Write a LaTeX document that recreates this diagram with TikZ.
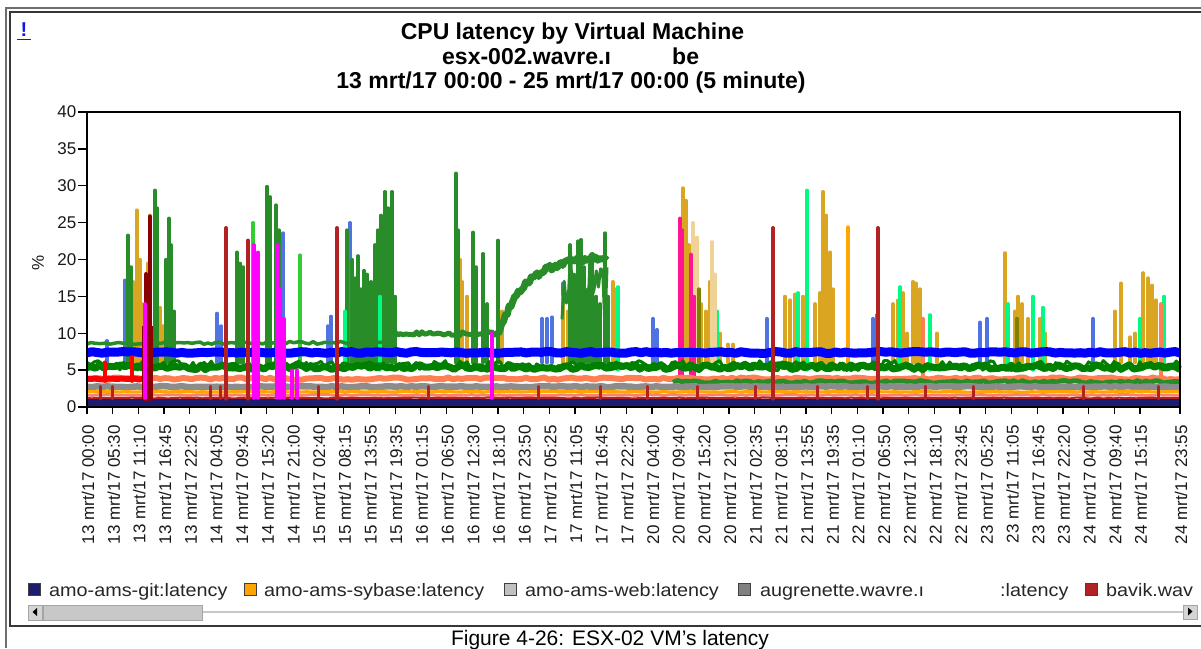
\documentclass[tikz,border=0pt]{standalone}
\usepackage{fontspec}
\setmainfont{Liberation Sans}
\usepackage{graphicx}

% series colours
\definecolor{navyc}{RGB}{28,28,112}
\definecolor{goldc}{RGB}{218,165,32}
\definecolor{ltgrayc}{RGB}{192,192,192}
\definecolor{dkgrayc}{RGB}{128,128,128}
\definecolor{fbrick}{RGB}{178,34,34}
\definecolor{blueband}{RGB}{0,0,255}
\definecolor{royal}{RGB}{80,115,225}
\definecolor{forest}{RGB}{40,140,40}
\definecolor{dgreen}{RGB}{0,128,0}
\definecolor{spring}{RGB}{0,250,130}
\definecolor{limec}{RGB}{50,205,50}
\definecolor{mag}{RGB}{255,0,255}
\definecolor{dpink}{RGB}{255,20,147}
\definecolor{dred}{RGB}{139,0,0}
\definecolor{coralc}{RGB}{255,127,80}
\definecolor{salmonc}{RGB}{250,128,114}
\definecolor{orangec}{RGB}{255,165,0}
\definecolor{wheatc}{RGB}{238,210,150}
\definecolor{olivec}{RGB}{128,128,0}
\definecolor{redc}{RGB}{255,0,0}
\definecolor{grayband}{RGB}{140,140,140}
\definecolor{linkblue}{RGB}{20,20,230}
\definecolor{outerframe}{RGB}{110,110,110}
\definecolor{innerframe}{RGB}{55,55,55}
\definecolor{btnfill}{RGB}{212,212,212}
\definecolor{thumbfill}{RGB}{200,200,200}
\definecolor{thumbedge}{RGB}{165,165,165}

\tikzset{
  spikeline/.style={line width=3.2pt, line cap=round},
  bandline/.style={line join=round},
  axlab/.style={font=\fontsize{17}{17}\selectfont, inner sep=0pt, text=black!90},
  leglab/.style={font=\fontsize{18}{18}\selectfont, inner sep=0pt, anchor=base west, text=black!85},
  legbox/.style={draw=black!75, line width=0.9pt},
  titlefont/.style={font=\bfseries\fontsize{23}{23}\selectfont, inner sep=0pt, anchor=base},
  axisline/.style={black, line width=1.3pt},
}
\newcommand\widen[1]{\scalebox{1.1}[1]{#1}}

\begin{document}
\begin{tikzpicture}[x=1pt, y=-1pt]
\useasboundingbox (0,0) rectangle (1201,648);
\fill[white] (0,0) rectangle (1201,648);
\pgfmathsetseed{20170313}

% double frame of the report panel
\draw[outerframe, line width=2pt] (6,648) -- (6,8) -- (1201,8);
\draw[innerframe, line width=1.2pt] (1201,12) -- (10,12) -- (10,626) -- (1201,626);

% link mark
\node[font=\bfseries\fontsize{20}{20}\selectfont, text=linkblue, inner sep=0pt, anchor=base] (bang) at (24,36) {!};
\draw[linkblue, line width=1.3pt] (17,39.5) -- (31,39.5);

% titles
\node[titlefont] (t1) at (572.5,39.5) {CPU latency by Virtual Machine};
\node[titlefont, anchor=base west] (t2a) at (442,64.5) {esx-002.wavre.ı};
\node[titlefont, anchor=base west] (t2b) at (672,64.5) {be};
\node[titlefont] (t3) at (571,88) {13 mrt/17 00:00 - 25 mrt/17 00:00 (5 minute)};

% y-axis title
\node[axlab, rotate=90] (yt) at (38,263) {\%};

% ---------------- data, in value coordinates ----------------
\begin{scope}[shift={(0,407)}, y=7.375pt]
  % spikes rising from behind the bands
  \foreach \px/\pv in {107/9, 125/17.2, 217/12.7, 221/11, 283/23.6, 328/11, 331/12.3,
      347/23.5, 350/25, 542/12, 547/12, 552/12.2, 563/16.8, 653/12, 657/10.5, 767/12,
      873/12, 877/12.5, 980/11.5, 987/12, 1093/12}
    \draw[spikeline, royal] (\px,6) -- (\px,\pv);
  \foreach \px/\pv in {133/17, 137/26.7, 140/20, 142/14, 148/19.5, 150/26, 160/13.5, 163/11,
      384/14, 387/11.5, 460/20, 462/17, 467/15, 502/13, 563/15, 568/13, 575/14, 580/13,
      613/17, 616/16, 683/29.7, 686/28, 689/22, 701/14, 706/13, 710/17, 714/12, 720/10,
      728/8.5, 733/8.5, 785/15, 790/14.5, 795/15.3, 803/15, 815/14, 820/15.5, 823/29.2,
      826/26, 830/21, 833/16, 893/14, 898/14.5, 903/15.5, 907/10, 913/17, 916/16.8, 920/16,
      937/10, 1005/20.9, 1015/13, 1018/15, 1022/14, 1028/12, 1040/12, 1045/10, 1115/13,
      1121/16.8, 1130/9.5, 1135/10, 1143/18.2, 1148/17.5, 1152/16.5, 1156/14.5}
    \draw[spikeline, goldc] (\px,6) -- (\px,\pv);
  \foreach \px/\pv in {128/23.3, 131/19, 155/29.4, 157/27, 166/20, 169/25.6, 171/22, 174/13,
      237/21, 240/19.5, 243/19, 267/29.9, 270/28.5, 276/27.4, 279/24, 347/24, 352/20,
      355/17.5, 358/20.5, 361/16, 364/18.5, 367/18, 371/17, 375/22, 378/24, 381/26,
      385/29.2, 388/27, 392/29.2, 395/15, 456/31.7, 458/24, 473/23.7, 476/19, 483/20.8,
      487/14, 498/22.6, 570/22, 574/18, 578/22.5, 581/22.7, 584/19, 588/16, 592/19.8,
      596/15, 600/14, 605/23.6, 608/15}
    \draw[spikeline, forest] (\px,6) -- (\px,\pv);
  \foreach \px/\pv in {253/25, 300/20.6}
    \draw[spikeline, limec] (\px,6) -- (\px,\pv);
  \foreach \px/\pv in {345/13, 380/15, 618/16.3, 717/13, 798/15.5, 807/29.4, 900/16.3,
      930/12.5, 1008/14, 1033/15, 1043/13.5, 1140/12, 1164/15}
    \draw[spikeline, spring] (\px,5) -- (\px,\pv);
  \foreach \px/\pv in {693/25, 697/23, 712/22.4, 715/18}
    \draw[spikeline, wheatc] (\px,6) -- (\px,\pv);
  \foreach \px/\pv in {699/16, 1017/12}
    \draw[spikeline, olivec] (\px,6) -- (\px,\pv);
  \foreach \px/\pv in {680/25.6, 682/24, 691/20.7, 694/15}
    \draw[spikeline, dpink] (\px,4) -- (\px,\pv);
  \draw[spikeline, orangec] (848,6) -- (848,24.4);
  \foreach \px/\pv in {923/12, 1161/14}
    \draw[spikeline, coralc] (\px,4) -- (\px,\pv);

  % forest-green series: baseline, plateau and rising curve
  \draw[forest, line width=3.5pt, bandline] plot[domain=87:395, samples=80] (\x,{8.7+0.2*rand});
  \draw[forest, line width=5pt, bandline] plot[domain=395:500, samples=40] (\x,{9.9+0.3*rand});
  \draw[forest, line width=7pt, bandline] plot[domain=498:607, samples=60]
    (\x,{10+10.5*(1-exp(-(\x-498)/28))+0.4*rand});
  \draw[forest, line width=3pt, bandline] plot[domain=562:607, samples=22] (\x,{16+5*rand});

  % steady bands
  \draw[blueband, line width=9pt, bandline] plot[domain=87:1180, samples=220] (\x,{7.4+0.12*rand});
  \draw[dgreen, line width=7pt, bandline] plot[domain=87:1180, samples=260] (\x,{5.4+0.35*rand});
  \draw[dgreen, line width=3pt, bandline] plot[domain=87:1180, samples=300] (\x,{5.6+0.7*rand});
  \draw[coralc, line width=6pt, bandline] plot[domain=87:1180, samples=240] (\x,{3.85+0.15*rand});
  \draw[redc, line width=6pt, bandline] plot[domain=87:143, samples=14] (\x,{3.8+0.1*rand});
  \draw[spikeline, redc] (105,3.5) -- (105,6.1);
  \draw[spikeline, redc] (132,3.5) -- (132,6.8);
  \draw[forest, line width=5pt, bandline] plot[domain=673:1180, samples=120] (\x,{3.4+0.18*rand});
  \draw[grayband, line width=6.5pt, bandline] plot[domain=87:1180, samples=220] (\x,{2.75+0.08*rand});
  \draw[orangec, line width=3pt, bandline] plot[domain=87:1180, samples=200] (\x,{2.08+0.06*rand});
  \draw[salmonc, line width=3pt, bandline] plot[domain=87:1180, samples=200] (\x,{1.62+0.06*rand});
  \draw[fbrick, line width=2pt, bandline] plot[domain=87:1180, samples=200] (\x,{1.22+0.05*rand});
  \fill[navyc] (87,0) rectangle (1180,1.08);

  % spikes drawn over the bands
  \fill[dred] (142,1) rectangle (153,11);
  \draw[spikeline, dred, line width=4.5pt] (146,1) -- (146,18);
  \draw[spikeline, dred, line width=4.5pt] (150,1) -- (150,25.8);
  \foreach \px/\pv in {145/14, 254/22, 258/21, 277/22, 280/16, 284/12, 292/5, 297/5, 492/10}
    \draw[spikeline, mag] (\px,1.2) -- (\px,\pv);
  \foreach \px/\pv in {226/24.3, 248/22.6, 337/24.3, 773/24.3, 878/24.3}
    \draw[spikeline, fbrick, line width=3.5pt] (\px,1.1) -- (\px,\pv);
  \foreach \px in {100,112,210,220,318,428,538,600,647,697,755,817,867,925,973,1083,1158}
    \draw[spikeline, fbrick, line width=3pt] (\px,1.1) -- (\px,2.8);

  % y ticks and labels
  \foreach \v in {0,5,...,40}{
    \draw[axisline] (78,\v) -- (87,\v);
    \node[axlab, anchor=east] (yl\v) at (76.5,\v) {\v};
  }
\end{scope}

% plot frame
\draw[axisline] (87,112) rectangle (1180,407);

% x ticks and rotated time labels
\foreach \i/\dd/\tm in {0/13/00:00, 1/13/05:30, 2/13/11:10, 3/13/16:45, 4/13/22:25,
    5/14/04:05, 6/14/09:45, 7/14/15:20, 8/14/21:00, 9/15/02:40, 10/15/08:15,
    11/15/13:55, 12/15/19:35, 13/16/01:15, 14/16/06:50, 15/16/12:30, 16/16/18:10,
    17/16/23:50, 18/17/05:25, 19/17/11:05, 20/17/16:45, 21/17/22:25, 22/20/04:00,
    23/20/09:40, 24/20/15:20, 25/20/21:00, 26/21/02:35, 27/21/08:15, 28/21/13:55,
    29/21/19:35, 30/22/01:10, 31/22/06:50, 32/22/12:30, 33/22/18:10, 34/22/23:45,
    35/23/05:25, 36/23/11:05, 37/23/16:45, 38/23/22:20, 39/24/04:00, 40/24/09:40,
    41/24/15:15}{
  \pgfmathsetmacro\xx{87+\i*25.68}
  \draw[axisline] (\xx,407) -- (\xx,414);
  \node[axlab, rotate=90, anchor=east] (xl\i) at (\xx+1,425) {\dd\ mrt/17 \tm};
}
\draw[axisline] (1180,407) -- (1180,414);
\node[axlab, rotate=90, anchor=east] (xlend) at (1181,425) {24 mrt/17 23:55};

% legend
\draw[legbox, fill=navyc] (28,583) rectangle (40,595);
\node[leglab] (lg1) at (49,596) {\widen{amo-ams-git:latency}};
\draw[legbox, fill=orangec] (244,583) rectangle (256,595);
\node[leglab] (lg2) at (264,596) {\widen{amo-ams-sybase:latency}};
\draw[legbox, fill=ltgrayc] (504,583) rectangle (516,595);
\node[leglab] (lg3) at (525,596) {\widen{amo-ams-web:latency}};
\draw[legbox, fill=dkgrayc] (738,583) rectangle (750,595);
\node[leglab] (lg4) at (760,596) {\widen{augrenette.wavre.ı}};
\node[leglab] (lg5) at (1000,596) {\widen{:latency}};
\draw[legbox, fill=fbrick] (1085,583) rectangle (1097,595);
\node[leglab] (lg6) at (1106,596) {\widen{bavik.wav}};

% horizontal scroll bar
\draw[thumbfill, line width=2pt] (202,612) -- (1183,612);
\draw[fill=btnfill, draw=thumbedge, line width=0.8pt] (28,605) rectangle (42,620);
\fill[black] (37,608) -- (37,616) -- (32.5,612) -- cycle;
\draw[fill=thumbfill, draw=thumbedge, line width=0.8pt] (43,605) rectangle (202,620);
\draw[fill=btnfill, draw=thumbedge, line width=0.8pt] (1183,605) rectangle (1197,619);
\fill[black] (1188,607.5) -- (1188,615.5) -- (1192.5,611.5) -- cycle;

% caption
\node[font=\fontsize{21}{21}\selectfont, inner sep=0pt, anchor=base] (cap) at (610,645)
  {Figure 4-26: ESX-02 VM’s latency};
\end{tikzpicture}
\end{document}
